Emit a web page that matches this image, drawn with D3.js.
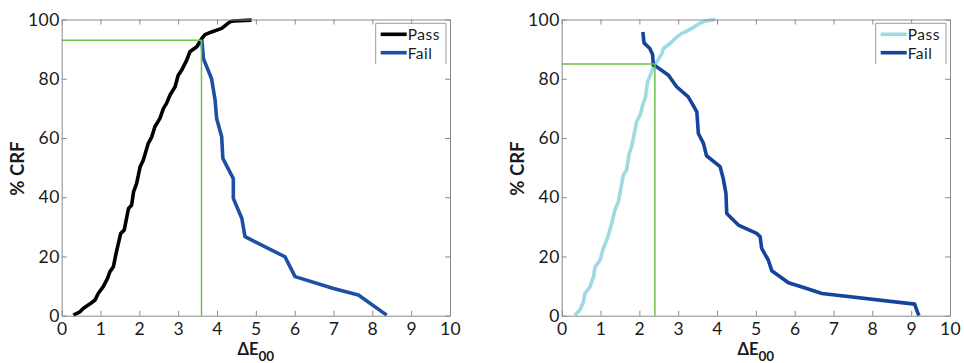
<!DOCTYPE html>
<html>
<head>
<meta charset="utf-8">
<script src="https://cdn.jsdelivr.net/npm/d3@7"></script>
<style>
  html, body { margin: 0; padding: 0; background: #fff; }
  svg { display: block; }
  text { font-family: Lato, "Open Sans", sans-serif; fill: #1a1a1a; }
</style>
</head>
<body>
<svg id="chart" width="964" height="363"></svg>
<script>
// Axis ticks
const xTicks = [0, 1, 2, 3, 4, 5, 6, 7, 8, 9, 10];
const yTicks = [0, 20, 40, 60, 80, 100];
const seriesNames = ["Pass", "Fail"];

// Panel A: cumulative relative frequency (%) vs colour difference
const passAX = [0.30, 0.47, 0.56, 0.75, 0.86, 0.94, 1.07, 1.18, 1.24, 1.33, 1.40, 1.46, 1.52, 1.61, 1.72, 1.80, 1.85, 1.93, 2.02, 2.10, 2.23, 2.32, 2.40, 2.53, 2.62, 2.70, 2.79, 2.92, 3.00, 3.09, 3.22, 3.30, 3.48, 3.61, 3.69, 3.86, 4.12, 4.33, 4.42, 4.89];
const passAY = [0.2, 1.3, 2.5, 4.2, 5.3, 7.5, 9.8, 12.6, 14.8, 16.5, 21.0, 24.4, 27.8, 28.9, 36.2, 37.3, 41.8, 44.7, 50.3, 52.5, 58.2, 60.4, 63.8, 66.6, 70.0, 71.7, 74.5, 77.3, 81.2, 82.9, 86.3, 89.1, 90.8, 93.6, 94.9, 95.8, 97.0, 99.2, 99.5, 99.8];
const failAX = [3.61, 3.65, 3.86, 3.95, 3.99, 4.12, 4.15, 4.42, 4.42, 4.64, 4.72, 5.75, 6.01, 7.00, 7.64, 8.37];
const failAY = [93.0, 86.8, 80.0, 72.8, 66.6, 60.4, 53.1, 46.3, 39.6, 32.8, 26.7, 19.9, 13.2, 9.2, 7.0, 0.2];
const crossA = [3.6, 93];

// Panel B
const passBX = [0.34, 0.47, 0.56, 0.60, 0.73, 0.82, 0.86, 0.99, 1.07, 1.16, 1.24, 1.31, 1.37, 1.46, 1.53, 1.59, 1.67, 1.74, 1.80, 1.87, 1.93, 2.02, 2.10, 2.16, 2.21, 2.27, 2.36, 2.45, 2.58, 2.62, 2.79, 2.92, 3.09, 3.22, 3.35, 3.52, 3.69, 3.95];
const passBY = [0.2, 1.9, 4.7, 7.5, 9.8, 13.2, 16.5, 18.8, 22.7, 25.5, 28.9, 32.3, 35.7, 38.5, 43.5, 47.5, 49.2, 54.8, 57.0, 61.5, 65.5, 67.7, 71.7, 73.9, 79.0, 80.7, 84.0, 85.7, 88.5, 90.2, 91.9, 93.6, 95.3, 96.1, 97.0, 98.4, 99.5, 100];
const failBX = [2.09, 2.12, 2.27, 2.34, 2.36, 2.45, 2.75, 2.96, 3.26, 3.43, 3.48, 3.52, 3.65, 3.73, 4.08, 4.16, 4.23, 4.25, 4.55, 5.02, 5.11, 5.15, 5.32, 5.41, 5.84, 6.31, 6.70, 9.09, 9.16, 9.20];
const failBY = [95.8, 92.1, 90.2, 88.2, 84.6, 84.0, 81.2, 77.3, 73.9, 70.0, 68.8, 61.5, 58.2, 54.0, 50.3, 46.3, 41.3, 34.5, 30.6, 27.8, 26.7, 22.7, 18.8, 15.2, 11.1, 9.2, 7.5, 3.9, 1.3, 0];
const crossB = [2.4, 85];

const svg = d3.select("#chart");
const plotTop = 19.5, plotBottom = 315.7;

const panels = [
  { left: 61.7, right: 450, pass: [passAX, passAY], fail: [failAX, failAY], cross: crossA,
    colors: ["#000000", "#1d4fa5"] },
  { left: 561.7, right: 950, pass: [passBX, passBY], fail: [failBX, failBY], cross: crossB,
    colors: ["#9ddbe2", "#14449b"] }
];

const zip = (xs, ys) => xs.map((x, i) => [x, ys[i]]);

panels.forEach(p => {
  const x = d3.scaleLinear().domain([0, 10]).range([p.left, p.right]);
  const y = d3.scaleLinear().domain([0, 100]).range([plotBottom, plotTop]);
  const g = svg.append("g");

  // Curves
  const line = d3.line().x(d => x(d[0])).y(d => y(d[1]));
  [p.pass, p.fail].forEach((s, i) => {
    g.append("path")
      .datum(zip(s[0], s[1]))
      .attr("d", line)
      .attr("fill", "none")
      .attr("stroke", p.colors[i])
      .attr("stroke-width", 3.6)
      .attr("stroke-linejoin", "round");
  });

  // Crossing guide lines
  g.append("path")
    .attr("d", `M${x(0)},${y(p.cross[1])}H${x(p.cross[0])}V${y(0)}`)
    .attr("fill", "none")
    .attr("stroke", "#6cc24a")
    .attr("stroke-width", 1.5);

  // Axes with inward ticks on all four sides
  const axisStyle = sel => {
    sel.select(".domain").attr("stroke", "#8a8a8a");
    sel.selectAll(".tick line").attr("stroke", "#8a8a8a");
  };
  const labelStyle = sel => sel
    .attr("font-size", 17.5)
    .attr("font-family", "Lato, sans-serif")
    .attr("letter-spacing", 0.4)
    .attr("fill", "#1a1a1a");
  g.append("g").attr("transform", `translate(0,${plotBottom})`)
    .call(d3.axisBottom(x).tickValues(xTicks).tickSizeInner(-5).tickSizeOuter(0).tickPadding(7))
    .call(axisStyle)
    .selectAll("text").call(labelStyle);
  g.append("g").attr("transform", `translate(0,${plotTop})`)
    .call(d3.axisTop(x).tickValues(xTicks).tickSizeInner(-5).tickSizeOuter(0).tickFormat(""))
    .call(axisStyle);
  g.append("g").attr("transform", `translate(${p.left},0)`)
    .call(d3.axisLeft(y).tickValues(yTicks).tickSizeInner(-5).tickSizeOuter(0).tickPadding(2))
    .call(axisStyle)
    .selectAll("text").call(labelStyle);
  g.append("g").attr("transform", `translate(${p.right},0)`)
    .call(d3.axisRight(y).tickValues(yTicks).tickSizeInner(-5).tickSizeOuter(0).tickFormat(""))
    .call(axisStyle);

  // Axis titles
  g.append("text")
    .attr("transform", `translate(${p.left - 38},${(plotTop + plotBottom) / 2 + 1}) rotate(-90)`)
    .attr("text-anchor", "middle")
    .attr("font-size", 18.5)
    .attr("font-weight", "bold")
    .text("% CRF");
  const xt = g.append("text")
    .attr("x", (p.left + p.right) / 2)
    .attr("y", 354.5)
    .attr("text-anchor", "middle")
    .attr("font-size", 16.5)
    .attr("font-weight", "bold");
  xt.append("tspan").text("ΔE");
  xt.append("tspan").attr("dy", 6).attr("font-size", 13.5).text("00");

  // Legend box (open at the bottom)
  const lx0 = p.right - 74.3, lx1 = p.right - 4, ly0 = 23.3, ly1 = 64;
  g.append("path")
    .attr("d", `M${lx0},${ly1}V${ly0}H${lx1}V${ly1}`)
    .attr("fill", "#fff")
    .attr("stroke", "#9a9a9a")
    .attr("stroke-width", 1);
  seriesNames.forEach((name, i) => {
    const ly = 34.3 + i * 18.4;
    g.append("line")
      .attr("x1", lx0 + 5).attr("x2", lx0 + 31)
      .attr("y1", ly).attr("y2", ly)
      .attr("stroke", p.colors[i])
      .attr("stroke-width", 3.6);
    g.append("text")
      .attr("x", lx0 + 32)
      .attr("y", ly + 5.8)
      .attr("font-size", 15.5)
      .attr("letter-spacing", 0.5)
      .text(name);
  });
});
</script>
</body>
</html>
